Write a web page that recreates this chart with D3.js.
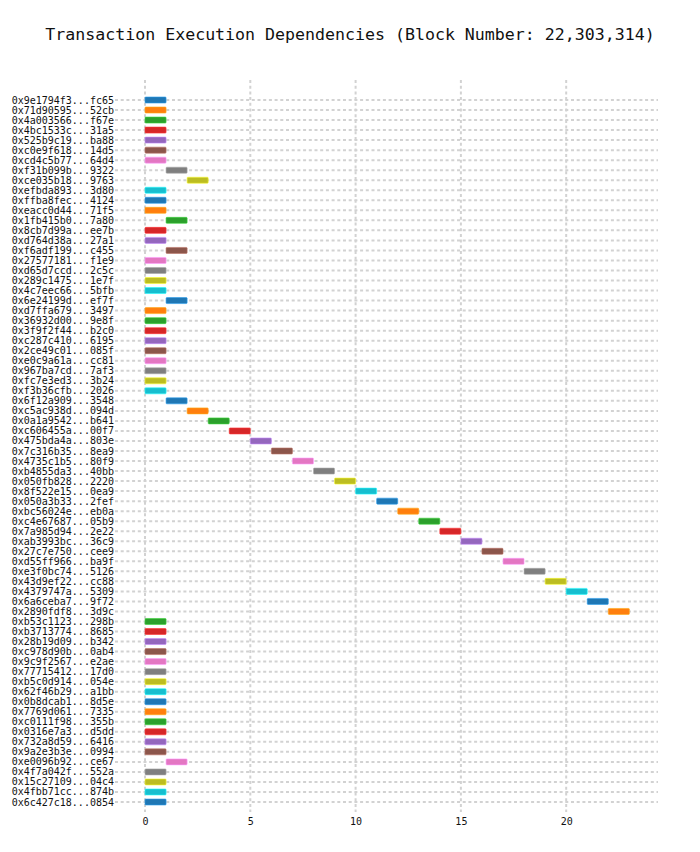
<!DOCTYPE html>
<html><head><meta charset="utf-8">
<script src="https://cdn.jsdelivr.net/npm/d3@7"></script>
<style>body{margin:0;background:#fff}</style>
</head><body>
<svg id="c" width="700" height="852"></svg>
<script>
const title = "Transaction Execution Dependencies (Block Number: 22,303,314)";
const txLabels = [
"0x9e1794f3...fc65","0x71d90595...52cb","0x4a003566...f67e","0x4bc1533c...31a5","0x525b9c19...ba88",
"0xc0e9f618...14d5","0xcd4c5b77...64d4","0xf31b099b...9322","0xce035b18...9763","0xefbda893...3d80",
"0xffba8fec...4124","0xeacc0d44...71f5","0x1fb415b0...7a80","0x8cb7d99a...ee7b","0xd764d38a...27a1",
"0xf6adf199...c455","0x27577181...f1e9","0xd65d7ccd...2c5c","0x289c1475...1e7f","0x4c7eec66...5bfb",
"0x6e24199d...ef7f","0xd7ffa679...3497","0x36932d00...9e8f","0x3f9f2f44...b2c0","0xc287c410...6195",
"0x2ce49c01...085f","0xe0c9a61a...cc81","0x967ba7cd...7af3","0xfc7e3ed3...3b24","0xf3b36cfb...2026",
"0x6f12a909...3548","0xc5ac938d...094d","0x0a1a9542...b641","0xc606455a...00f7","0x475bda4a...803e",
"0x7c316b35...8ea9","0x4735c1b5...80f9","0xb4855da3...40bb","0x050fb828...2220","0x8f522e15...0ea9",
"0x050a3b33...2fef","0xbc56024e...eb0a","0xc4e67687...05b9","0x7a985d94...2e22","0xab3993bc...36c9",
"0x27c7e750...cee9","0xd55ff966...ba9f","0xe3f0bc74...5126","0x43d9ef22...cc88","0x4379747a...5309",
"0x6a6ceba7...9f72","0x2890fdf8...3d9c","0xb53c1123...298b","0xb3713774...8685","0x28b19d09...b342",
"0xc978d90b...0ab4","0x9c9f2567...e2ae","0x77715412...17d0","0xb5c0d914...054e","0x62f46b29...a1bb",
"0x0b8dcab1...8d5e","0x7769d061...7335","0xc0111f98...355b","0x0316e7a3...d5dd","0x732a8d59...6416",
"0x9a2e3b3e...0994","0xe0096b92...ce67","0x4f7a042f...552a","0x15c27109...04c4","0x4fbb71cc...874b",
"0x6c427c18...0854"];
const startTimes = [
0,0,0,0,0,0,0,1,2,0,
0,0,1,0,0,1,0,0,0,0,
1,0,0,0,0,0,0,0,0,0,
1,2,3,4,5,6,7,8,9,10,
11,12,13,14,15,16,17,18,19,20,
21,22,0,0,0,0,0,0,0,0,
0,0,0,0,0,0,1,0,0,0,
0];
const endTimes = startTimes.map(s => s + 1);
const xTicks = [0,5,10,15,20];
const palette = ["#1f77b4","#ff7f0e","#2ca02c","#d62728","#9467bd","#8c564b","#e377c2","#7f7f7f","#bcbd22","#17becf"];

const svg = d3.select("#c");
const mono = "'DejaVu Sans Mono', monospace";
const plotL = 115, plotR = 658, plotT = 80, plotB = 812;
const x = d3.scaleLinear().domain([-1.425, 24.36]).range([plotL, plotR]);
const y = d3.scalePoint().domain(txLabels).range([100, 802]);

svg.append("text").attr("x", 350).attr("y", 40).attr("text-anchor", "middle")
  .attr("font-family", mono).attr("font-size", 16.6).attr("fill", "#111").text(title);

// horizontal grid
svg.append("g").selectAll("line").data(txLabels).join("line")
  .attr("x1", plotL).attr("x2", plotR)
  .attr("y1", d => y(d)).attr("y2", d => y(d))
  .attr("stroke", "#d2d2d2").attr("stroke-width", 2).attr("stroke-dasharray", "3,2.7");
// vertical grid
svg.append("g").selectAll("line").data(xTicks).join("line")
  .attr("x1", d => x(d)).attr("x2", d => x(d))
  .attr("y1", plotT).attr("y2", plotB)
  .attr("stroke", "#d2d2d2").attr("stroke-width", 2).attr("stroke-dasharray", "3,2.7");

// y labels
svg.append("g").selectAll("text").data(txLabels).join("text")
  .attr("x", 114).attr("y", d => y(d)).attr("dy", "0.35em").attr("text-anchor", "end")
  .attr("font-family", mono).attr("font-size", 10).attr("fill", "#111").text(d => d);

// x axis
const xAxis = d3.axisBottom(x).tickValues(xTicks).tickSize(0).tickPadding(0);
const gx = svg.append("g").attr("transform", `translate(0,${plotB + 6})`).call(xAxis);
gx.select(".domain").remove();
gx.selectAll("text").attr("font-family", mono).attr("font-size", 10).attr("fill", "#111");

// bars
svg.append("g").selectAll("rect").data(txLabels).join("rect")
  .attr("x", (d, i) => x(startTimes[i]))
  .attr("width", (d, i) => x(endTimes[i]) - x(startTimes[i]))
  .attr("y", d => y(d) - 3).attr("height", 6)
  .attr("rx", 0.8)
  .attr("fill", (d, i) => palette[i % 10])
  .attr("stroke", (d, i) => d3.color(palette[i % 10]).brighter(0.8))
  .attr("stroke-width", 0.6);
</script>
</body></html>
